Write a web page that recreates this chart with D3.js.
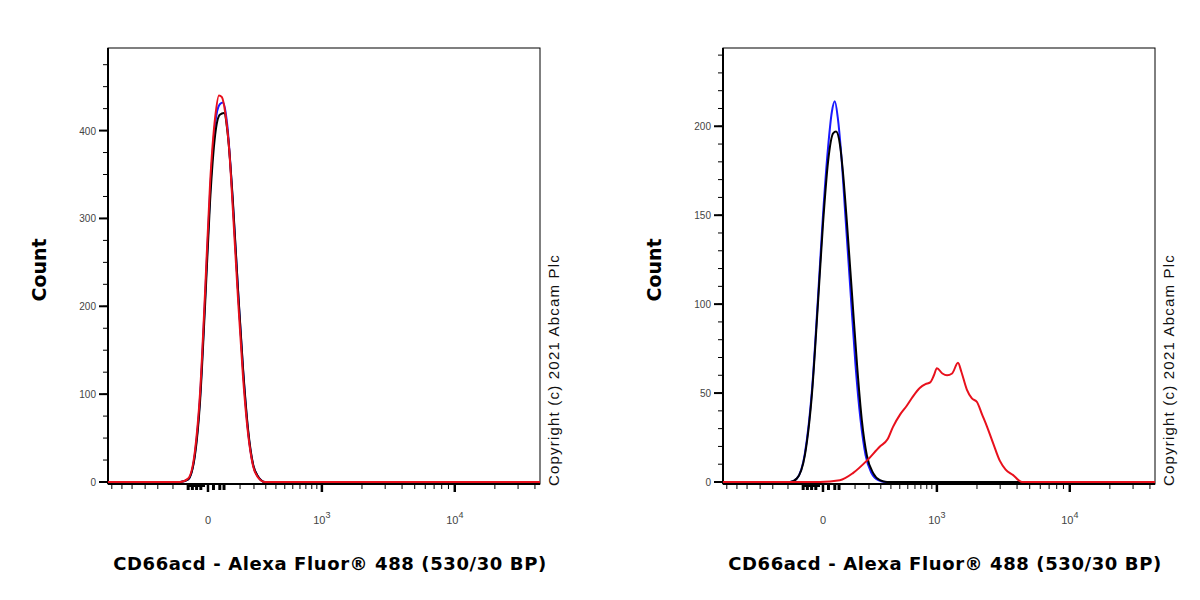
<!DOCTYPE html>
<html><head><meta charset="utf-8">
<script src="https://cdn.jsdelivr.net/npm/d3@7"></script>
<style>body{margin:0;background:#fff;font-family:Arial,"Liberation Sans",sans-serif}</style>
</head><body><svg id="c" width="1200" height="600"></svg>
<script>
// x values are display channels (0..1024), y values are event counts
const leftBlack = [[0,0],[171,0],[190,3],[206,30],[218,90],[230,200],[242,320],[254,395],[265,418],[275,420],[284,395],[296,320],[308,220],[320,130],[332,60],[344,20],[356,6],[372,0],[1024,0]];
const leftBlue = [[0,0],[171,0],[190,3],[206,32],[218,95],[230,208],[242,330],[254,408],[265,430],[273,432],[283,405],[295,325],[308,220],[320,128],[332,58],[344,19],[356,6],[372,0],[1024,0]];
const leftRed = [[0,0],[171,0],[190,4],[206,35],[218,100],[230,215],[242,340],[254,415],[263,440],[270,438],[278,420],[287,380],[296,310],[308,210],[320,120],[332,55],[344,18],[356,5],[372,0],[1024,0]];
const rightBlack = [[0,0],[159,0],[175,2],[194,15],[211,50],[225,100],[237,145],[249,180],[261,196],[268,197],[277,190],[284,175],[294,145],[306,105],[318,65],[329,35],[341,15],[356,5],[372,1],[389,0],[1024,0]];
const rightBlue = [[0,0],[159,0],[175,2],[194,16],[211,52],[225,103],[237,150],[249,188],[258,208],[265,214],[272,205],[280,185],[290,150],[302,108],[314,66],[326,35],[338,15],[352,5],[368,1],[385,0],[1024,0]];
const rightRed = [[0,0],[175,0],[230,0],[277,1],[308,5],[341,12],[372,20],[390,24],[403,31],[420,38],[436,43],[450,48],[467,53],[480,55],[491,56],[500,60],[507,64],[520,61],[531,60],[543,61],[557,67],[565,62],[578,52],[590,47],[602,45],[614,38],[626,31],[640,22],[656,12],[670,7],[687,4],[709,0],[1024,0]];

const majorTicks = [237, 507, 822];
const majorLabels = [["0",""],["10","3"],["10","4"]];
const minorTicks = [9,33,57,88,118,154,313,346,374,398,419,438,455,469,483,495,602,657,697,727,752,773,791,807,917,972,1012];
const zeroTicks = [190,200,210,220,250,265,275];

const panels = [
  {x0:108, yMax:494, yMajor:[0,100,200,300,400], yMinorStep:25, series:[[leftBlue,'#1a1aff'],[leftBlack,'#000'],[leftRed,'#e8101c']]},
  {x0:723, yMax:244, yMajor:[0,50,100,150,200], yMinorStep:10, series:[[rightBlue,'#1a1aff'],[rightBlack,'#000'],[rightRed,'#e8101c']]}
];

const svg = d3.select('#c');
const plotTop = 48, plotBottom = 484, w = 432;

panels.forEach(p => {
  const g = svg.append('g');
  const x = d3.scaleLinear().domain([0, 1024]).range([p.x0, p.x0 + w]);
  const y = d3.scaleLinear().domain([0, p.yMax]).range([482, plotTop]);

  // frame
  g.append('rect').attr('x', p.x0).attr('y', plotTop).attr('width', w).attr('height', plotBottom - plotTop)
    .attr('fill', 'none').attr('stroke', '#000').attr('stroke-width', 1);
  g.append('line').attr('x1', p.x0).attr('x2', p.x0).attr('y1', plotTop).attr('y2', plotBottom).attr('stroke', '#000').attr('stroke-width', 2);
  g.append('line').attr('x1', p.x0).attr('x2', p.x0 + w).attr('y1', plotBottom).attr('y2', plotBottom).attr('stroke', '#000').attr('stroke-width', 2);

  // y axis
  const minor = d3.range(0, p.yMax, p.yMinorStep);
  g.selectAll('.ymin').data(minor).join('line')
    .attr('x1', p.x0 - 5).attr('x2', p.x0).attr('y1', d => y(d)).attr('y2', d => y(d))
    .attr('stroke', '#000').attr('stroke-width', 1);
  g.selectAll('.ymaj').data(p.yMajor).join('line')
    .attr('x1', p.x0 - 9).attr('x2', p.x0).attr('y1', d => y(d)).attr('y2', d => y(d))
    .attr('stroke', '#000').attr('stroke-width', 2);
  g.selectAll('.ylab').data(p.yMajor).join('text')
    .attr('x', p.x0 - 12).attr('y', d => y(d) + 4).attr('text-anchor', 'end')
    .attr('font-size', 10).attr('fill', '#444').text(d => d);

  // x axis
  g.selectAll('.xmin').data(minorTicks).join('line')
    .attr('x1', d => x(d)).attr('x2', d => x(d)).attr('y1', plotBottom).attr('y2', plotBottom + 5)
    .attr('stroke', '#000').attr('stroke-width', 1);
  g.selectAll('.xz').data(zeroTicks).join('line')
    .attr('x1', d => x(d)).attr('x2', d => x(d)).attr('y1', plotBottom).attr('y2', plotBottom + 6)
    .attr('stroke', '#000').attr('stroke-width', 3);
  g.append('rect').attr('x', x(190)).attr('y', plotBottom).attr('width', x(230) - x(190)).attr('height', 3).attr('fill', '#000');
  g.selectAll('.xmaj').data(majorTicks).join('line')
    .attr('x1', d => x(d)).attr('x2', d => x(d)).attr('y1', plotBottom).attr('y2', plotBottom + 8)
    .attr('stroke', '#000').attr('stroke-width', 2.5);
  majorTicks.forEach((t, i) => {
    const tx = g.append('text').attr('x', x(t)).attr('y', 524).attr('text-anchor', 'middle')
      .attr('font-size', 11).attr('fill', '#444');
    tx.append('tspan').text(majorLabels[i][0]);
    if (majorLabels[i][1]) tx.append('tspan').attr('dy', -6).attr('font-size', 9).text(majorLabels[i][1]);
  });

  // histograms
  const line = d3.line().x(d => x(d[0])).y(d => y(d[1])).curve(d3.curveMonotoneX);
  p.series.forEach(([data, col]) => {
    g.append('path').datum(data).attr('d', line).attr('fill', 'none')
      .attr('stroke', col).attr('stroke-width', 2);
  });

  // titles
  g.append('text').attr('transform', `translate(${p.x0 - 62},270) rotate(-90)`)
    .attr('text-anchor', 'middle').attr('font-family', 'DejaVu Sans').attr('font-size', 19)
    .attr('font-weight', 'bold').text('Count');
  g.append('text').attr('x', p.x0 + 222).attr('y', 570).attr('text-anchor', 'middle')
    .attr('font-family', 'DejaVu Sans').attr('font-size', 18).attr('letter-spacing', 0.6)
    .attr('font-weight', 'bold').text('CD66acd - Alexa Fluor® 488 (530/30 BP)');
  g.append('text').attr('transform', `translate(${p.x0 + w + 19},370) rotate(-90)`)
    .attr('text-anchor', 'middle').attr('font-size', 15).attr('letter-spacing', 1.2)
    .attr('fill', '#111').text('Copyright (c) 2021 Abcam Plc');
});
</script></body></html>
